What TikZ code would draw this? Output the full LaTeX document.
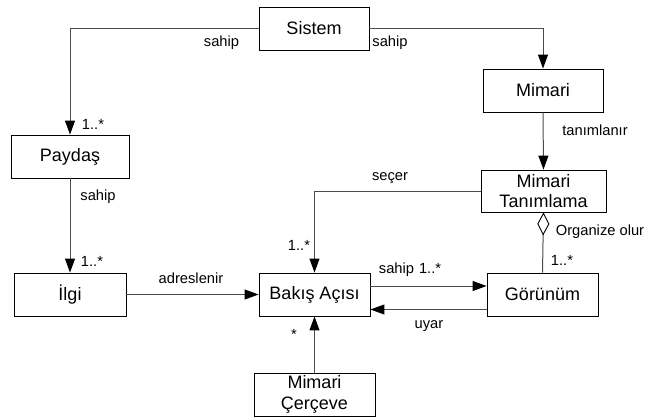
\documentclass[tikz,border=0pt]{standalone}
\usepackage{fontspec}
\setmainfont{Liberation Sans}
\usetikzlibrary{arrows.meta}
\begin{document}
\begin{tikzpicture}[x=1pt,y=-1pt,
  box/.style={draw=black,line width=0.9pt,fill=white,inner sep=0pt,align=center,
    font=\fontsize{18}{20.5}\selectfont},
  lbl/.style={inner sep=0pt,font=\fontsize{14.7}{16}\selectfont},
  conn/.style={draw=black!70,line width=1pt},
  arr/.style={conn,-{Triangle[length=14pt,width=10pt,color=black]}},
  agg/.style={conn,{Diamond[open,length=23pt,width=12pt,line width=0.9pt,color=black]}-}]
\useasboundingbox (0,0) rectangle (645,420);
\node[box,minimum width=110pt,minimum height=43pt] (sis) at (314,28.5) {Sistem};
\node[box,minimum width=120pt,minimum height=43pt] (mim) at (543,90.5) {Mimari};
\node[box,minimum width=118pt,minimum height=43pt] (pay) at (70,156.5) {Paydaş};
\node[box,minimum width=125pt,minimum height=42pt] (mt) at (543.5,191) {Mimari\\Tanımlama};
\node[box,minimum width=112pt,minimum height=43pt] (ilg) at (70,294.5) {İlgi};
\node[box,minimum width=111pt,minimum height=43pt] (bak) at (314.5,294.5) {Bakış Açısı};
\node[box,minimum width=111pt,minimum height=43pt] (gor) at (542.5,294.5) {Görünüm};
\node[box,minimum width=121pt,minimum height=43pt] (mc) at (314.5,394.5) {Mimari\\Çerçeve};

\draw[arr] (sis.west) -| (pay.north);
\draw[arr] (sis.east) -| (mim.north);
\draw[arr] (mim.south) -- (mt.north);
\draw[arr] (pay.south) -- (ilg.north);
\draw[arr] (ilg.east) -- (bak.west);
\draw[arr] (mt.west) -| (bak.north);
\draw[arr] ([yshift=8.5pt]bak.east) -- ([yshift=8.5pt]gor.west);
\draw[arr] ([yshift=-15pt]gor.west) -- ([yshift=-15pt]bak.east);
\draw[agg] (mt.south) -- (gor.north);
\draw[arr] (mc.north) -- (bak.south);

\node[lbl] (l1) at (221.5,43) {sahip};
\node[lbl] (l2) at (390,43) {sahip};
\node[lbl] (l3) at (93,124) {1..*};
\node[lbl] (l4) at (98,197) {sahip};
\node[lbl] (l5) at (92,261) {1..*};
\node[lbl] (l6) at (191,278) {adreslenir};
\node[lbl] (l7) at (595,130) {tanımlanır};
\node[lbl] (l8) at (390,178) {seçer};
\node[lbl] (l9) at (299,245) {1..*};
\node[lbl] (l10) at (410,270) {sahip\hspace{5pt}1..*};
\node[lbl] (l11) at (294,334) {*};
\node[lbl] (l12) at (429,326) {uyar};
\node[lbl] (l13) at (600,232) {Organize olur};
\node[lbl] (l14) at (562,260) {1..*};
\end{tikzpicture}
\end{document}
